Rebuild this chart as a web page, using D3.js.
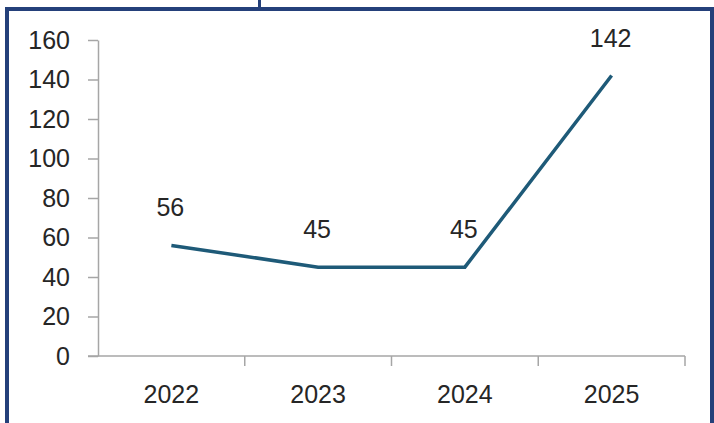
<!DOCTYPE html>
<html>
<head>
<meta charset="utf-8">
<script src="https://cdn.jsdelivr.net/npm/d3@7"></script>
<style>
  html, body { margin: 0; padding: 0; background: #fff; }
  svg { display: block; }
</style>
</head>
<body>
<div id="chart"></div>
<script>
// chart data
const years = ["2022", "2023", "2024", "2025"];
const values = [56, 45, 45, 142];
const yTicks = [0, 20, 40, 60, 80, 100, 120, 140, 160];

const width = 714, height = 423;
const frameColor = "#24407a";
const lineColor = "#1e5a78";
const axisColor = "#a6a6a6";
const textColor = "#262626";
const font = "'Liberation Sans', Arial, sans-serif";

const svg = d3.select("#chart")
  .append("svg")
  .attr("width", width)
  .attr("height", height);

svg.append("rect").attr("width", width).attr("height", height).attr("fill", "#fff");

// blue frame around the slide (no bottom edge visible)
svg.append("rect").attr("x", 5).attr("y", 7).attr("width", 4).attr("height", height - 7).attr("fill", frameColor);
svg.append("rect").attr("x", 710).attr("y", 7).attr("width", 4).attr("height", height - 7).attr("fill", frameColor);
svg.append("rect").attr("x", 5).attr("y", 7).attr("width", 709).attr("height", 4).attr("fill", frameColor);
// descender of the cut-off title above the frame
svg.append("rect").attr("x", 258).attr("y", 0).attr("width", 3).attr("height", 7).attr("fill", frameColor);

// scales
const x = d3.scaleBand().domain(years).range([98, 685]);
const y = d3.scaleLinear().domain([0, 160]).range([356, 40]);

// y axis
const yAxis = svg.append("g")
  .attr("transform", "translate(98,0)")
  .call(d3.axisLeft(y).tickValues(yTicks).tickSize(10).tickPadding(18).tickSizeOuter(0));
yAxis.select(".domain").attr("stroke", axisColor).attr("stroke-width", 1.5);
yAxis.selectAll(".tick line").attr("stroke", axisColor).attr("stroke-width", 1.5);
yAxis.selectAll(".tick text")
  .attr("fill", textColor)
  .style("font-family", font)
  .style("font-size", "25px");

// x axis: ticks between categories (Excel style)
const xAxis = svg.append("g").attr("transform", "translate(0,356)");
xAxis.append("line")
  .attr("x1", 88).attr("x2", x.range()[1])
  .attr("stroke", axisColor).attr("stroke-width", 1.5);
const bounds = years.map(d => x(d)).concat([x.range()[1]]);
xAxis.selectAll(".xtick")
  .data(bounds.slice(1))
  .enter().append("line")
  .attr("class", "xtick")
  .attr("x1", d => d).attr("x2", d => d)
  .attr("y1", 0).attr("y2", 10)
  .attr("stroke", axisColor).attr("stroke-width", 1.5);
xAxis.selectAll(".xlabel")
  .data(years)
  .enter().append("text")
  .attr("class", "xlabel")
  .attr("x", d => x(d) + x.bandwidth() / 2)
  .attr("y", 47)
  .attr("text-anchor", "middle")
  .attr("fill", textColor)
  .style("font-family", font)
  .style("font-size", "25px")
  .text(d => d);

// the line
const pts = years.map((d, i) => ({ year: d, value: values[i] }));
const line = d3.line()
  .x(d => x(d.year) + x.bandwidth() / 2)
  .y(d => y(d.value));

svg.append("path")
  .datum(pts)
  .attr("d", line)
  .attr("fill", "none")
  .attr("stroke", lineColor)
  .attr("stroke-width", 3.5)
  .attr("stroke-linejoin", "miter");

// data labels
svg.selectAll(".dlabel")
  .data(pts)
  .enter().append("text")
  .attr("class", "dlabel")
  .attr("x", d => x(d.year) + x.bandwidth() / 2 - 1)
  .attr("y", d => y(d.value) - 29)
  .attr("text-anchor", "middle")
  .attr("fill", textColor)
  .style("font-family", font)
  .style("font-size", "25px")
  .text(d => d.value);
</script>
</body>
</html>
